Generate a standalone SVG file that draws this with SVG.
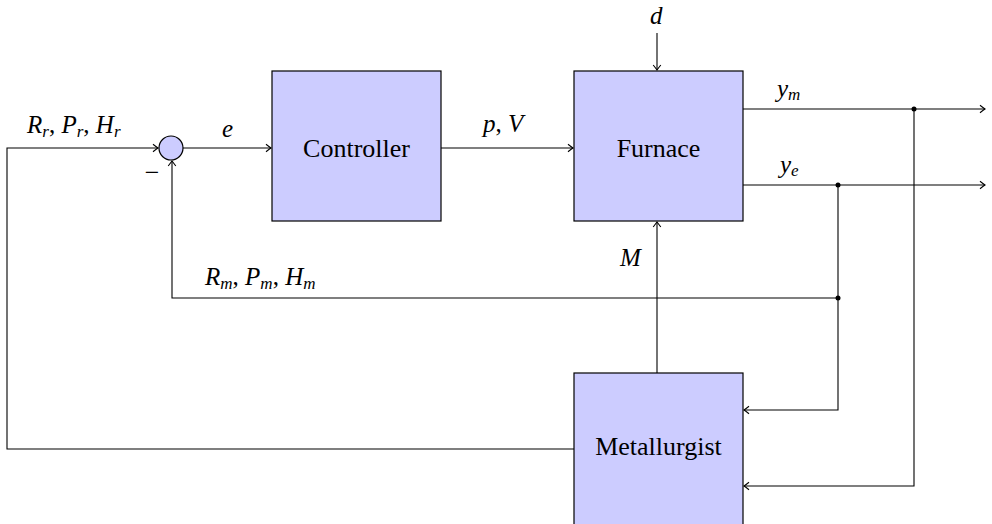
<svg xmlns="http://www.w3.org/2000/svg" width="992" height="524" viewBox="0 0 992 524">
  <defs>
    <marker id="arr" viewBox="-6 -5 7 10" markerWidth="7" markerHeight="10" refX="0" refY="0" orient="auto" markerUnits="userSpaceOnUse">
      <path d="M -5 -3.8 Q -1.2 -0.8 0 0 Q -1.2 0.8 -5 3.8" fill="none" stroke="#000" stroke-width="1.1"/>
    </marker>
  </defs>

  <!-- signal wires -->
  <g id="connectors" fill="none" stroke="#000" stroke-width="1.1">
    <!-- reference input into summing junction -->
    <path d="M 574 449 H 7 V 148 H 158" marker-end="url(#arr)"/>
    <!-- error to controller -->
    <path d="M 183 148 H 271" marker-end="url(#arr)"/>
    <!-- manipulated variables to furnace -->
    <path d="M 441 148 H 573" marker-end="url(#arr)"/>
    <!-- disturbance -->
    <path d="M 657 33 V 70" marker-end="url(#arr)"/>
    <!-- outputs -->
    <path d="M 743 109 H 985" marker-end="url(#arr)"/>
    <path d="M 743 185 H 985" marker-end="url(#arr)"/>
    <!-- measured feedback to junction -->
    <path d="M 838 185 V 298 H 172 V 161" marker-end="url(#arr)"/>
    <!-- outputs to metallurgist -->
    <path d="M 838 298 V 410 H 744" marker-end="url(#arr)"/>
    <path d="M 914 109 V 486 H 744" marker-end="url(#arr)"/>
    <!-- metallurgist decision to furnace -->
    <path d="M 657 373 V 222" marker-end="url(#arr)"/>
    <!-- branch points -->
    <g fill="#000" stroke="none">
      <circle cx="914" cy="109" r="2.5"/>
      <circle cx="838" cy="185" r="2.5"/>
      <circle cx="838" cy="298" r="2.5"/>
    </g>
  </g>

  <g id="blocks" fill="#ccccff" stroke="#000" stroke-width="1.2">
    <g id="sum">
      <circle cx="171" cy="148" r="12"/>
      <text x="152" y="181" font-family="Liberation Serif" font-size="26" text-anchor="middle" fill="#000" stroke="none">−</text>
    </g>
    <g id="controller">
      <rect x="272" y="71" width="169" height="150"/>
      <text x="356.5" y="157" font-family="Liberation Serif" font-size="26" text-anchor="middle" fill="#000" stroke="none">Controller</text>
    </g>
    <g id="furnace">
      <rect x="574" y="71" width="169" height="150"/>
      <text x="658.5" y="157" font-family="Liberation Serif" font-size="26" text-anchor="middle" fill="#000" stroke="none">Furnace</text>
    </g>
    <g id="metallurgist">
      <rect x="574" y="373" width="169" height="170"/>
      <text x="658.5" y="455" font-family="Liberation Serif" font-size="26" text-anchor="middle" fill="#000" stroke="none">Metallurgist</text>
    </g>
  </g>

  <!-- signal labels -->
  <g id="labels" font-family="Liberation Serif" font-style="italic" font-size="25" fill="#000">
    <text x="27" y="133">R<tspan font-size="17" dy="4">r</tspan><tspan dy="-4" font-style="normal">, </tspan>P<tspan font-size="17" dy="4">r</tspan><tspan dy="-4" font-style="normal">, </tspan>H<tspan font-size="17" dy="4">r</tspan></text>
    <text x="222" y="137">e</text>
    <text x="483" y="132">p<tspan font-style="normal">, </tspan>V</text>
    <text x="650" y="24">d</text>
    <text x="777" y="97">y<tspan font-size="17" dy="3">m</tspan></text>
    <text x="780" y="173">y<tspan font-size="17" dy="3">e</tspan></text>
    <text x="620" y="266">M</text>
    <text x="205" y="285">R<tspan font-size="17" dy="4">m</tspan><tspan dy="-4" font-style="normal">, </tspan>P<tspan font-size="17" dy="4">m</tspan><tspan dy="-4" font-style="normal">, </tspan>H<tspan font-size="17" dy="4">m</tspan></text>
  </g>
</svg>
